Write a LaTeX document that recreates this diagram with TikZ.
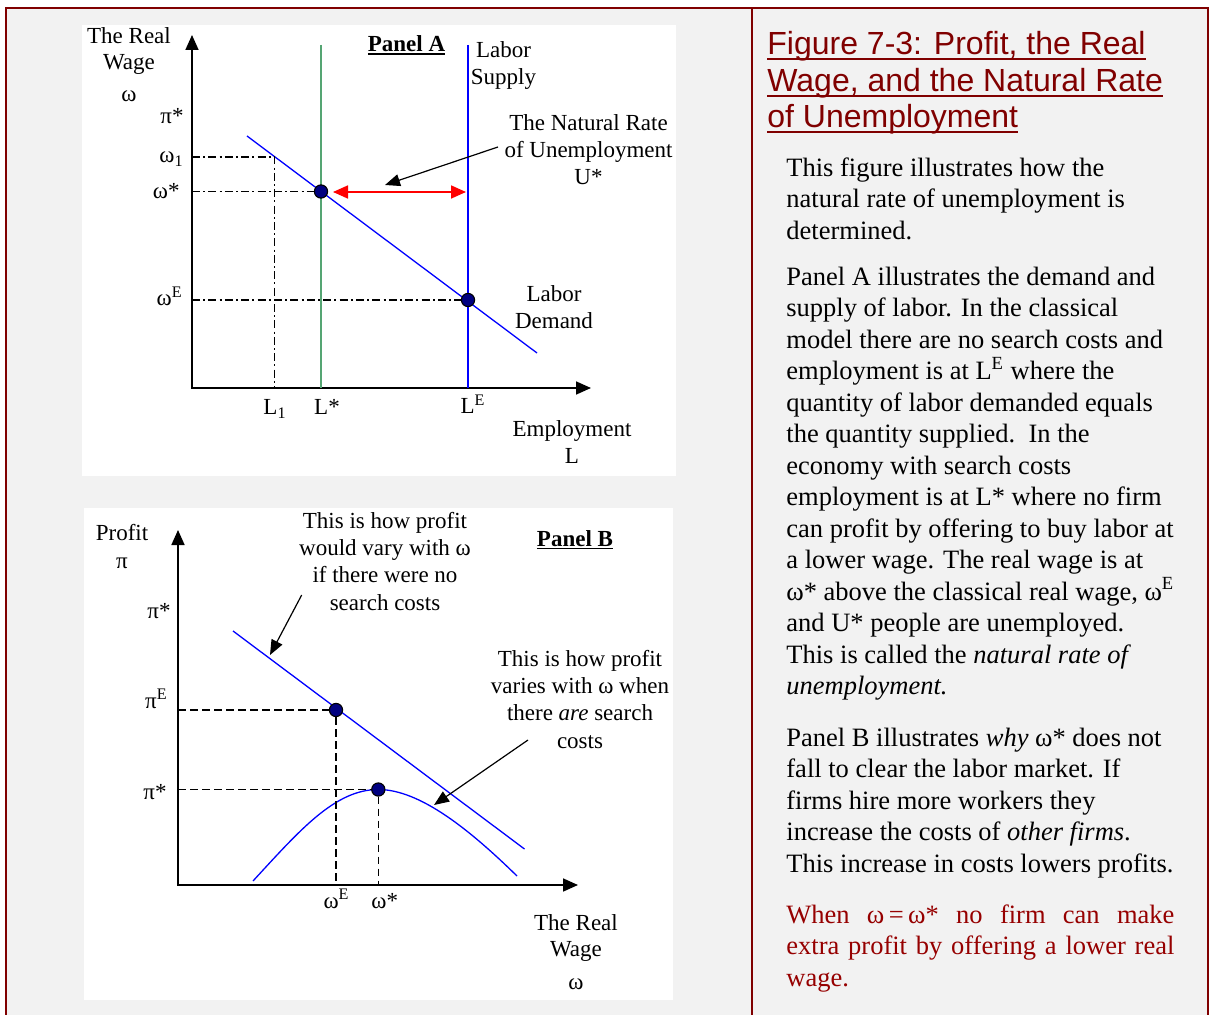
\documentclass[tikz,border=0pt]{standalone}
\usepackage{fontspec}
\setmainfont{Liberation Serif}
\newfontfamily\headfont{Liberation Sans}
\usepackage{xcolor}
\usetikzlibrary{arrows.meta,positioning}

\definecolor{frameRed}{RGB}{128,0,0}
\definecolor{noteRed}{RGB}{150,0,0}
\definecolor{pageGray}{RGB}{242,242,242}
\definecolor{searchGreen}{RGB}{85,165,115}
\definecolor{dotNavy}{RGB}{0,0,128}

% underline at a fixed depth: depth, thickness, text
\newcommand{\capline}[3]{\leavevmode\setbox0\hbox{#3}\rlap{\rule[-#1]{\wd0}{#2}}\box0}

\begin{document}
\begin{tikzpicture}[x=0.5pt, y=-0.5pt,
    every node/.style={inner sep=0pt, font=\fontsize{11.5}{13.6}\selectfont},
    lbl/.style={anchor=base, align=center},
    ticklbl/.style={anchor=base east},
    axisline/.style={line width=0.85pt, {Triangle[length=7.5pt, width=6.5pt]}-{Triangle[length=7.5pt, width=6.5pt]}},
    curveline/.style={blue, line width=0.65pt},
    dotnode/.style={circle, draw=black, fill=dotNavy, line width=0.55pt, minimum size=6.6pt},
    guide/.style={line width=0.7pt, dash pattern=on 4pt off 1.6pt on 1pt off 1.6pt},
    dashguide/.style={line width=0.7pt, dash pattern=on 3.8pt off 2.2pt},
    arrow/.style={-{Triangle[length=7.5pt, width=6pt]}, line width=0.6pt},
    gap/.style={red, line width=0.85pt, {Triangle[length=7.5pt, width=6.5pt]}-{Triangle[length=7.5pt, width=6.5pt]}},
    paneltitle/.style={anchor=base, font=\fontsize{11.5}{13.6}\selectfont\bfseries},
    bodytext/.style={anchor=base west, align=left, font=\fontsize{13.25}{15.75}\selectfont}
]
    \useasboundingbox (0,0) rectangle (1209,1015);
    \clip (0,0) rectangle (1209,1015);

    % page, frame and white panels
    \fill[pageGray] (6,8) rectangle (1208,1030);
    \draw[frameRed, line width=1.1pt] (6,1030) -- (6,8) -- (1208,8) -- (1208,1030);
    \draw[frameRed, line width=1.1pt] (752,8) -- (752,1030);
    \fill[white] (82,25) rectangle (676,476);
    \fill[white] (84,508) rectangle (673,1000);

    % ---------------- Panel A ----------------
    \coordinate (oA) at (192,388);
    \coordinate (yA) at (192,35);
    \coordinate (xA) at (591,388);
    \draw[axisline] (yA) -- (oA) -- (xA);

    \coordinate (dA1) at (247,136);
    \coordinate (dA2) at (537,353);
    \draw[curveline] (dA1) -- (dA2);

    \coordinate (lsTop) at (321,45);
    \coordinate (lsBot) at (321,388);
    \draw[searchGreen, line width=0.8pt] (lsTop) -- (lsBot);
    \coordinate (leTop) at (468,45);
    \coordinate (leBot) at (468,388);
    \draw[blue, line width=0.85pt] (leTop) -- (leBot);

    \node[dotnode] (wStar) at (321,191.5) {};
    \node[dotnode] (wEq) at (468,300) {};

    \coordinate (w1Ax) at (192,157);
    \coordinate (w1Cut) at (274.5,157);
    \coordinate (L1Ax) at (274.5,388);
    \draw[guide] (w1Ax) -- (w1Cut) -- (L1Ax);
    \coordinate (wsAx) at (192,191.5);
    \draw[guide] (wsAx) -- (wStar);
    \coordinate (weAx) at (192,300);
    \draw[guide] (weAx) -- (wEq);

    \coordinate (uLeft) at (333,192);
    \coordinate (uRight) at (466,192);
    \draw[gap] (uLeft) -- (uRight);

    \coordinate (urTail) at (498,147);
    \coordinate (urTip) at (385,185);
    \draw[arrow] (urTail) -- (urTip);

    % multi-line labels sit on the baseline of their last line
    \node[lbl] (wageA) at (129,101.7) {The Real\\[-0.6pt]Wage\\[2.6pt]ω};
    \node[paneltitle] (panelA) at (406.5,51.7) {\capline{1.6pt}{0.8pt}{Panel A}};
    \node[lbl] (supply) at (503.5,85) {Labor\\Supply};
    \node[lbl] (urate) at (588.5,185) {The Natural Rate\\of Unemployment\\U*};
    \node[lbl] (demand) at (554,328.3) {Labor\\Demand};
    \node[lbl] (employ) at (572,463.3) {Employment\\L};

    \node[ticklbl] (piTopA) at (184,124) {π*};
    \node[ticklbl] (w1Lbl) at (184,162.7) {ω\textsubscript{1}};
    \node[ticklbl] (wsLbl) at (180,198.3) {ω*};
    \node[ticklbl] (weLbl) at (183,306) {ω\textsuperscript{E}};
    \node[lbl] (L1Lbl) at (275,415) {L\textsubscript{1}};
    \node[lbl] (LsLbl) at (327,415) {L*};
    \node[lbl] (LeLbl) at (473,414) {L\textsuperscript{E}};

    % ---------------- Panel B ----------------
    \coordinate (oB) at (178,885);
    \coordinate (yB) at (178,530);
    \coordinate (xB) at (578,885);
    \draw[axisline] (yB) -- (oB) -- (xB);

    \coordinate (pB1) at (233,631);
    \coordinate (pB2) at (524.5,849);
    \draw[curveline] (pB1) -- (pB2);

    \coordinate (cB1) at (253,881);
    \coordinate (peak) at (378.3,789.5);
    \coordinate (cB2) at (517,876);
    \draw[curveline] (cB1) .. controls (300,830) and (335,789.5) .. (peak)
        .. controls (420,789.5) and (470,830) .. (cB2);

    \node[dotnode] (piEq) at (336,710) {};
    \node[dotnode] (piMax) at (peak) {};

    \coordinate (peAx) at (178,710);
    \draw[dashguide] (peAx) -- (piEq);
    \draw[dashguide] (piEq) -- (piEq |- oB);
    \coordinate (psAx) at (178,789.5);
    \draw[dashguide] (psAx) -- (piMax);
    \draw[dashguide] (piMax) -- (piMax |- oB);

    \coordinate (noTail) at (301.7,595);
    \coordinate (noTip) at (270,655);
    \draw[arrow] (noTail) -- (noTip);
    \coordinate (areTail) at (528,740);
    \coordinate (areTip) at (434,805);
    \draw[arrow] (areTail) -- (areTip);

    \node[lbl] (profit) at (122,568) {Profit\\π};
    \node[lbl] (noCost) at (385,610) {This is how profit\\would vary with ω\\if there were no\\search costs};
    \node[paneltitle] (panelB) at (575,546) {\capline{1.6pt}{0.8pt}{Panel B}};
    \node[lbl] (withCost) at (580,748) {This is how profit\\varies with ω when\\there \textit{are} search\\costs};
    \node[lbl] (wageB) at (576,989) {The Real\\[-0.6pt]Wage\\[2.6pt]ω};

    \node[ticklbl] (piTopB) at (171,618) {π*};
    \node[ticklbl] (piELbl) at (168,708) {π\textsuperscript{E}};
    \node[ticklbl] (piSLbl) at (167,799) {π*};
    \node[lbl] (wELblB) at (336.5,908) {ω\textsuperscript{E}};
    \node[lbl] (wSLblB) at (384.7,908) {ω*};

    % ---------------- text column ----------------
    \node[anchor=base west, align=left, text=frameRed,
          font=\headfont\fontsize{16}{18.3}\selectfont]
        (caption) at (767,127.7)
        {\capline{2.75pt}{1pt}{Figure 7-3: Profit, the Real}\\\capline{2.75pt}{1pt}{Wage, and the Natural Rate}\\\capline{2.75pt}{1pt}{of Unemployment}};
    \node[bodytext] (introText) at (786,239.5)
        {This figure illustrates how the\\natural rate of unemployment is\\determined.};
    \node[bodytext] (panelAText) at (786,694.5)
        {Panel A illustrates the demand and\\supply of labor. In the classical\\model there are no search costs and\\employment is at L\textsuperscript{E} where the\\quantity of labor demanded equals\\the quantity supplied.\ \ In the\\economy with search costs\\employment is at L* where no firm\\can profit by offering to buy labor at\\a lower wage. The real wage is at\\ω* above the classical real wage, ω\textsuperscript{E}\\and U* people are unemployed.\\This is called the \textit{natural rate of}\\\textit{unemployment.}};
    \node[bodytext] (panelBText) at (786,872)
        {Panel B illustrates \textit{why} ω* does not\\fall to clear the labor market. If\\firms hire more workers they\\increase the costs of \textit{other firms}.\\This increase in costs lowers profits.};
    \node[bodytext, text=noteRed] (ruleText) at (786,986)
        {\makebox[194pt][s]{When ω\,=\,ω* no firm can make}\\\makebox[194pt][s]{extra profit by offering a lower real}\\wage.};
\end{tikzpicture}
\end{document}
